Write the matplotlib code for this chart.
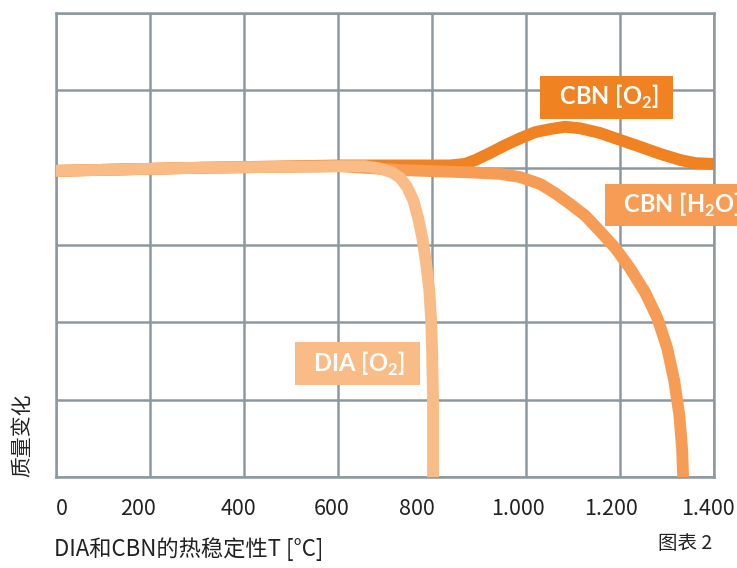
import matplotlib
matplotlib.use("Agg")
import matplotlib.pyplot as plt
from matplotlib.transforms import ScaledTranslation

plt.rcParams["font.family"] = ["Noto Sans CJK SC", "DejaVu Sans"]
plt.rcParams["mathtext.fontset"] = "custom"
plt.rcParams["mathtext.rm"] = "Lato"
plt.rcParams["mathtext.bf"] = "Lato:bold"

# --- data (x: temperature in °C, y: grid units 0..6) ---
dia_x = [0, 306, 604, 658, 689, 715, 732, 747, 760, 770, 779, 787, 794, 798, 800, 802, 802]
dia_y = [3.96, 4.00, 4.02, 4.02, 3.99, 3.94, 3.87, 3.75, 3.58, 3.36, 3.10, 2.78, 2.42,
         2.03, 1.64, 1.00, 0.00]

h2o_x = [0, 306, 604, 732, 881, 945, 987, 1030, 1062, 1094, 1126, 1157, 1190, 1221,
         1253, 1279, 1300, 1315, 1326, 1332, 1334]
h2o_y = [3.96, 4.00, 4.02, 3.97, 3.94, 3.92, 3.88, 3.79, 3.67, 3.53, 3.38, 3.18, 2.96,
         2.70, 2.39, 2.06, 1.67, 1.25, 0.80, 0.35, 0.00]

o2_x = [0, 306, 604, 838, 870, 892, 923, 955, 987, 1019, 1051, 1083, 1115, 1157, 1200,
        1243, 1285, 1328, 1360, 1400]
o2_y = [3.96, 4.00, 4.03, 4.03, 4.05, 4.10, 4.19, 4.29, 4.38, 4.46, 4.50, 4.53, 4.51,
        4.45, 4.36, 4.27, 4.18, 4.10, 4.06, 4.05]

x_ticks = [0, 200, 400, 600, 800, 1000, 1200, 1400]
x_tick_labels = ["0", "200", "400", "600", "800", "1.000", "1.200", "1.400"]
y_grid = [0, 1, 2, 3, 4, 5, 6]

c_o2 = "#F08222"
c_h2o = "#F79C55"
c_dia = "#F9BC86"
c_grid = "#8E999F"
c_text = "#222222"

fig = plt.figure(figsize=(7.37, 5.68), dpi=100)
ax = fig.add_axes([0.076, 0.160, 0.893, 0.817])

ax.set_xlim(0, 1400)
ax.set_ylim(0, 6)
ax.set_xticks(x_ticks)
ax.set_xticklabels(x_tick_labels, fontsize=15.5, color=c_text)
ax.set_yticks(y_grid)
ax.set_yticklabels([])
ax.tick_params(length=0, pad=15)
ax.grid(True, color=c_grid, linewidth=1.8, zorder=0)
ax.set_axisbelow(True)
for s in ax.spines.values():
    s.set_color(c_grid)
    s.set_linewidth(1.8)

# small horizontal nudges of tick labels (pixels), as in the original layout
nudges = [6, -12, -6, -6, -15, -8, -9, -6]
for lbl, dx in zip(ax.get_xticklabels(), nudges):
    lbl.set_transform(lbl.get_transform() + ScaledTranslation(dx / 100, 0, fig.dpi_scale_trans))

line_kw = dict(lw=8.5, solid_capstyle="butt", solid_joinstyle="round", clip_on=False)
ax.plot(o2_x, o2_y, color=c_o2, zorder=2, **line_kw)
ax.plot(h2o_x, h2o_y, color=c_h2o, zorder=3, **line_kw)
ax.plot(dia_x, dia_y, color=c_dia, zorder=4, **line_kw)

# curve labels
lab_kw = dict(fontsize=17, fontweight="bold", color="white", va="center", zorder=6,
              family=["Lato", "DejaVu Sans"])
ax.text(1172, 4.91, r"  CBN [O$_\mathbf{2}$]  ", ha="center",
        bbox=dict(boxstyle="square,pad=0.3", fc=c_o2, ec="none"), **lab_kw)
ax.text(1183, 3.52, r"  CBN [H$_\mathbf{2}$O]  ", ha="left", clip_on=False,
        bbox=dict(boxstyle="square,pad=0.3", fc=c_h2o, ec="none"), **lab_kw)
ax.text(641, 1.47, r"  DIA [O$_\mathbf{2}$]  ", ha="center",
        bbox=dict(boxstyle="square,pad=0.3", fc=c_dia, ec="none"), **lab_kw)

fig.text(0.030, 0.160, "质量变化", rotation=90, ha="center", va="bottom", fontsize=15, color=c_text)
fig.text(0.073, 0.013, "DIA和CBN的热稳定性T [°C]", ha="left", va="bottom", fontsize=16, color=c_text)
fig.text(0.967, 0.024, "图表 2", ha="right", va="bottom", fontsize=14, color=c_text)

fig.savefig("out.png", dpi=100)
